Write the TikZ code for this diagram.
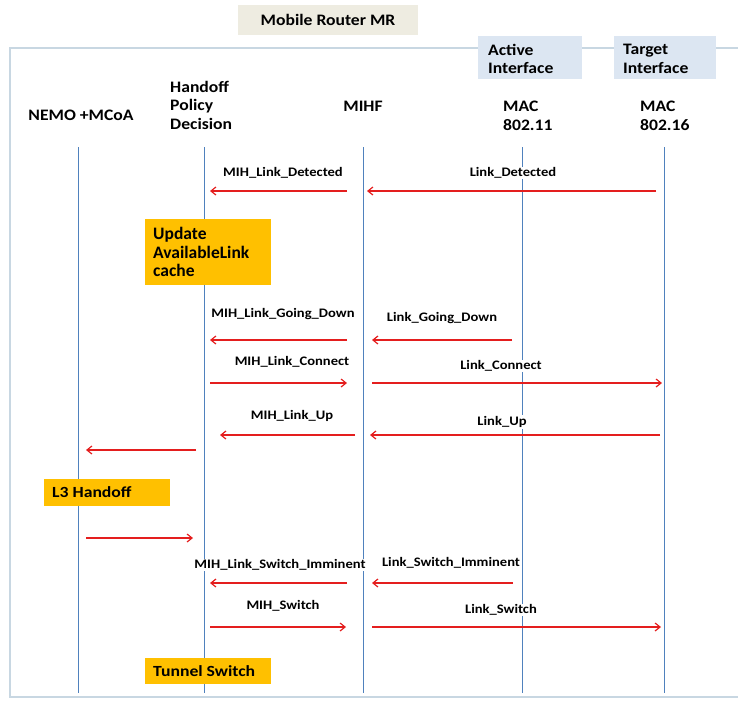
\documentclass[tikz,border=0pt]{standalone}
\usepackage{fontspec}
\setmainfont{Carlito}
\newfontfamily\hdrfont[FakeStretch=1.1]{Carlito}
\newfontfamily\lblfont[FakeStretch=1.12]{Carlito}
\newfontfamily\boxfont[FakeStretch=1.14]{Carlito}
\usetikzlibrary{arrows.meta}
\definecolor{lifeblue}{HTML}{4F81BD}
\definecolor{arrred}{HTML}{E41E1E}
\definecolor{framec}{HTML}{C8D7E2}
\definecolor{orangebox}{HTML}{FFC000}
\definecolor{titlebg}{HTML}{EEECE1}
\definecolor{ifbg}{HTML}{DCE6F2}
\tikzset{
  lifeline/.style={draw=lifeblue, line width=0.8pt},
  msg/.style={draw=arrred, line width=1.2pt, -{Straight Barb[length=5pt,width=8pt]}},
  lbl/.style={font=\lblfont\bfseries\fontsize{13}{14}\selectfont, fill=white, inner sep=1pt},
  hdr/.style={font=\hdrfont\bfseries\fontsize{16}{18.5}\selectfont, align=left, inner sep=0pt},
  actbox/.style={font=\bfseries\fontsize{17.5}{18.5}\selectfont, align=left, anchor=north west, inner sep=0pt},
  actbox2/.style={font=\boxfont\bfseries\fontsize{15.5}{18}\selectfont, anchor=west, inner sep=0pt},
}
\begin{document}
\begin{tikzpicture}[x=1pt,y=-1pt]
\useasboundingbox (0,0) rectangle (738,702);
% frame
\draw[framec, line width=1.2pt] (740,48) -- (10,48) -- (10,697) -- (740,697);
% title
\node[fill=titlebg, minimum width=180pt, minimum height=30pt, font=\hdrfont\bfseries\fontsize{16}{18}\selectfont] (title) at (328,20) {Mobile Router MR};
% interface boxes
\node[fill=ifbg, minimum width=104pt, minimum height=43pt, anchor=north west] (actif) at (478,36) {};
\node[hdr, anchor=north west] (actxt) at (488,44) {Active\\Interface};
\node[fill=ifbg, minimum width=102pt, minimum height=43pt, anchor=north west] (tgtif) at (614,36) {};
\node[hdr, anchor=north west] (tgtxt) at (623,44) {Target\\Interface};
% headers
\node[hdr] (hnemo) at (81,115) {NEMO +MCoA};
\node[hdr, anchor=west] (hhpd) at (170,105) {Handoff\\Policy\\Decision};
\node[hdr] (hmihf) at (363,106) {MIHF};
\node[hdr, anchor=west] (hmac1) at (503,116) {MAC\\802.11};
\node[hdr, anchor=west] (hmac2) at (640,116) {MAC\\802.16};
% lifelines
\coordinate (n1) at (78,147); \coordinate (n2) at (78,693);
\coordinate (h1) at (204,147); \coordinate (h2) at (204,693);
\coordinate (m1) at (363,147); \coordinate (m2) at (363,693);
\coordinate (a1) at (522,147); \coordinate (a2) at (522,693);
\coordinate (t1) at (664,147); \coordinate (t2) at (664,693);
\draw[lifeline] (n1) -- (n2);
\draw[lifeline] (h1) -- (h2);
\draw[lifeline] (m1) -- (m2);
\draw[lifeline] (a1) -- (a2);
\draw[lifeline] (t1) -- (t2);
% messages
\coordinate (s1) at (656,191); \coordinate (e1) at (367,191);
\coordinate (s2) at (347,191); \coordinate (e2) at (210,191);
\coordinate (s3) at (512,340); \coordinate (e3) at (372,340);
\coordinate (s4) at (347,340); \coordinate (e4) at (210,340);
\coordinate (s5) at (210,383); \coordinate (e5) at (347,383);
\coordinate (s6) at (372,383); \coordinate (e6) at (662,383);
\coordinate (s7) at (660,435); \coordinate (e7) at (370,435);
\coordinate (s8) at (355,435); \coordinate (e8) at (220,435);
\coordinate (s9) at (196,450); \coordinate (e9) at (86,450);
\coordinate (s10) at (86,538); \coordinate (e10) at (193,538);
\coordinate (s11) at (513,583); \coordinate (e11) at (372,583);
\coordinate (s12) at (347,583); \coordinate (e12) at (210,583);
\coordinate (s13) at (210,627); \coordinate (e13) at (346,627);
\coordinate (s14) at (372,627); \coordinate (e14) at (661,627);
\draw[msg] (s1) -- (e1);
\draw[msg] (s2) -- (e2);
\draw[msg] (s3) -- (e3);
\draw[msg] (s4) -- (e4);
\draw[msg] (s5) -- (e5);
\draw[msg] (s6) -- (e6);
\draw[msg] (s7) -- (e7);
\draw[msg] (s8) -- (e8);
\draw[msg] (s9) -- (e9);
\draw[msg] (s10) -- (e10);
\draw[msg] (s11) -- (e11);
\draw[msg] (s12) -- (e12);
\draw[msg] (s13) -- (e13);
\draw[msg] (s14) -- (e14);
% labels
\node[lbl] (l1) at (513,173) {Link\_Detected};
\node[lbl] (l2) at (283,173) {MIH\_Link\_Detected};
\node[lbl] (l3) at (442,318) {Link\_Going\_Down};
\node[lbl] (l4) at (283,314) {MIH\_Link\_Going\_Down};
\node[lbl] (l5) at (292,362) {MIH\_Link\_Connect};
\node[lbl] (l6) at (501,366) {Link\_Connect};
\node[lbl] (l7) at (502,422) {Link\_Up};
\node[lbl] (l8) at (292,416) {MIH\_Link\_Up};
\node[lbl] (l11) at (451,563) {Link\_Switch\_Imminent};
\node[lbl] (l12) at (280,565) {MIH\_Link\_Switch\_Imminent};
\node[lbl] (l13) at (283,606) {MIH\_Switch};
\node[lbl] (l14) at (501,610) {Link\_Switch};
% action boxes
\fill[orangebox] (145,219) rectangle (271,285);
\node[actbox] (upd) at (153,227.5) {Update\\AvailableLink\\cache};
\fill[orangebox] (44,479) rectangle (170,506);
\node[actbox2] (l3h) at (52,492.5) {L3 Handoff};
\fill[orangebox] (145,658) rectangle (271,684);
\node[actbox2] (tsw) at (153,671) {Tunnel Switch};
\end{tikzpicture}
\end{document}
